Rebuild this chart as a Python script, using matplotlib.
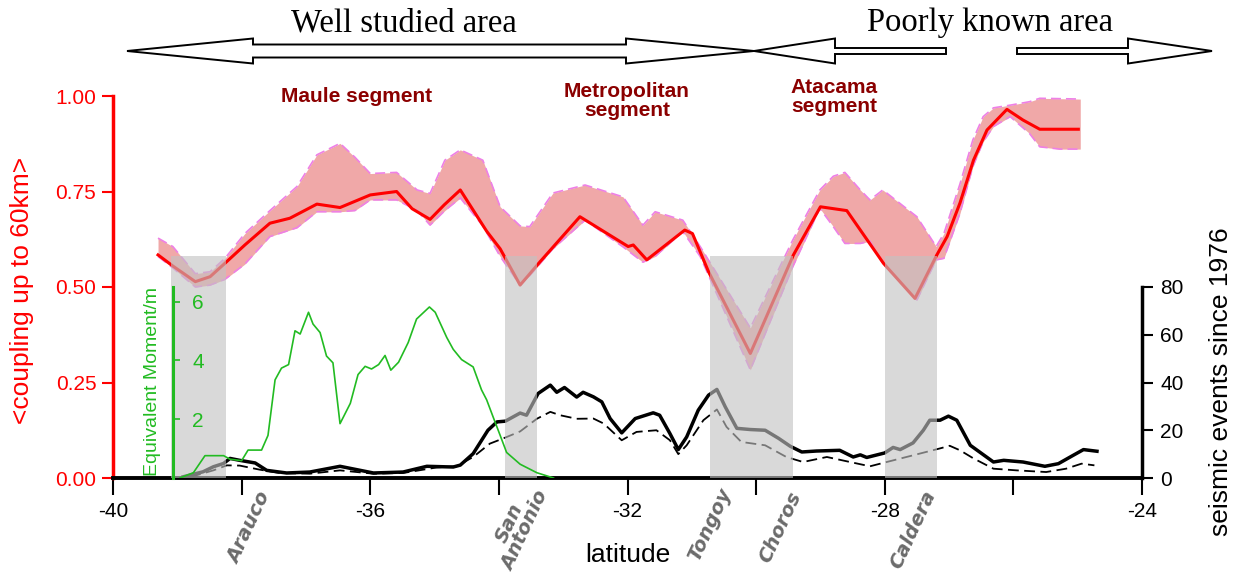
import matplotlib
matplotlib.use('Agg')
import matplotlib.pyplot as plt
from matplotlib.patches import Polygon
from matplotlib import font_manager as fm
import numpy as np

names = {f.name for f in fm.fontManager.ttflist}
NARROW = 'Liberation Sans Narrow' if 'Liberation Sans Narrow' in names else 'Liberation Sans'
plt.rcParams['font.family'] = [NARROW, 'DejaVu Sans']

# ---------------- data ----------------
# coupling envelope (min / max of models)
env_lat = [-39.30, -39.07, -38.72, -38.49, -38.26, -37.95, -37.56, -37.14, -36.83, -36.47,
           -36.24, -36.00, -35.59, -35.27, -35.07, -34.84, -34.60, -34.25, -33.98, -33.67,
           -33.52, -33.16, -32.66, -32.07, -31.76, -31.57, -31.14, -30.87, -30.09, -29.43,
           -29.01, -28.80, -28.62, -28.38, -28.23, -28.03, -27.50, -27.20, -27.08, -26.83,
           -26.63, -26.47, -26.31, -26.05, -25.75, -25.59, -25.28, -24.96]
env_lo = [0.580, 0.550, 0.500, 0.505, 0.520, 0.560, 0.632, 0.655, 0.697, 0.697,
          0.700, 0.728, 0.728, 0.700, 0.662, 0.700, 0.733, 0.660, 0.580, 0.505,
          0.530, 0.600, 0.675, 0.605, 0.565, 0.580, 0.645, 0.580, 0.283, 0.553,
          0.706, 0.658, 0.614, 0.614, 0.620, 0.562, 0.466, 0.571, 0.575, 0.693,
          0.815, 0.880, 0.920, 0.946, 0.902, 0.867, 0.861, 0.861]
env_hi = [0.628, 0.606, 0.535, 0.540, 0.575, 0.640, 0.700, 0.763, 0.846, 0.876,
          0.840, 0.797, 0.800, 0.754, 0.745, 0.832, 0.859, 0.832, 0.710, 0.660,
          0.658, 0.746, 0.767, 0.736, 0.662, 0.697, 0.675, 0.606, 0.393, 0.623,
          0.754, 0.790, 0.800, 0.754, 0.728, 0.754, 0.684, 0.606, 0.640, 0.770,
          0.885, 0.946, 0.969, 0.976, 0.985, 0.994, 0.993, 0.992]

# mean coupling
red_lat = [-39.30, -39.07, -38.72, -38.49, -38.26, -37.95, -37.56, -37.25, -36.83, -36.47,
           -36.00, -35.59, -35.35, -35.07, -34.85, -34.60, -34.19, -33.98, -33.67, -33.36,
           -32.74, -31.99, -31.91, -31.70, -31.11, -30.99, -30.74, -30.09, -29.42, -29.00,
           -28.59, -28.02, -27.53, -27.19, -27.03, -26.83, -26.62, -26.41, -26.10, -25.85,
           -25.59, -24.99]
red_val = [0.584, 0.555, 0.514, 0.527, 0.562, 0.610, 0.667, 0.680, 0.717, 0.708,
           0.741, 0.750, 0.705, 0.677, 0.715, 0.754, 0.646, 0.600, 0.505, 0.566,
           0.684, 0.606, 0.610, 0.571, 0.649, 0.640, 0.540, 0.326, 0.584, 0.710,
           0.700, 0.562, 0.470, 0.584, 0.632, 0.720, 0.832, 0.911, 0.965, 0.937,
           0.913, 0.913]

# equivalent moment / m
gr_lat = [-38.96, -38.75, -38.57, -38.28, -38.18, -38.00, -37.90, -37.69, -37.59, -37.48,
          -37.38, -37.27, -37.17, -37.09, -36.96, -36.89, -36.78, -36.68, -36.58, -36.47,
          -36.31, -36.19, -36.08, -35.98, -35.87, -35.77, -35.68, -35.56, -35.41, -35.28,
          -35.08, -34.99, -34.81, -34.71, -34.58, -34.40, -34.27, -34.19, -34.09, -33.98,
          -33.88, -33.67, -33.41, -33.15]
gr_val = [0.00, 0.18, 0.76, 0.76, 0.64, 0.59, 0.95, 0.95, 1.45, 3.34,
          3.74, 3.86, 5.01, 4.90, 5.64, 5.24, 4.95, 4.15, 3.92, 1.85,
          2.54, 3.52, 3.80, 3.71, 3.86, 4.17, 3.67, 3.94, 4.61, 5.41,
          5.82, 5.64, 4.78, 4.38, 4.03, 3.78, 3.00, 2.66, 2.08, 1.45,
          0.87, 0.47, 0.18, 0.00]

# seismic events (solid)
sol_lat = [-38.91, -38.60, -38.44, -38.28, -38.18, -38.03, -37.79, -37.61, -37.30, -36.94,
           -36.47, -35.95, -35.49, -35.12, -34.71, -34.60, -34.40, -34.17, -34.03, -33.90,
           -33.67, -33.57, -33.39, -33.20, -33.10, -32.98, -32.79, -32.69, -32.53, -32.40,
           -32.27, -32.09, -31.88, -31.60, -31.50, -31.34, -31.21, -31.08, -30.90, -30.74,
           -30.61, -30.48, -30.30, -30.09, -29.86, -29.65, -29.47, -29.29, -29.06, -28.70,
           -28.49, -28.38, -28.28, -28.00, -27.87, -27.76, -27.56, -27.40, -27.30, -27.14,
           -27.01, -26.88, -26.67, -26.31, -26.15, -25.85, -25.51, -25.30, -25.07, -24.91,
           -24.70]
sol_val = [0.5, 2.6, 4.7, 6.1, 8.2, 7.4, 6.3, 3.2, 2.1, 2.5,
           4.9, 2.1, 2.5, 4.9, 4.6, 5.4, 10.2, 20.0, 23.5, 23.8,
           27.2, 26.3, 35.4, 38.9, 35.9, 37.9, 33.9, 35.9, 34.0, 31.9,
           24.9, 18.9, 24.9, 27.3, 26.3, 18.6, 11.9, 17.2, 28.4, 34.7,
           37.1, 29.8, 20.8, 20.3, 20.0, 16.6, 13.3, 10.9, 11.3, 11.6,
           8.8, 9.7, 8.6, 10.5, 12.8, 11.9, 14.7, 20.0, 24.2, 24.2,
           25.9, 24.2, 13.7, 6.7, 7.4, 6.7, 4.9, 6.0, 9.5, 11.9,
           11.2]

# seismic events (dashed)
das_lat = [-38.80, -38.44, -38.23, -38.03, -37.72, -37.41, -36.94, -36.47, -35.95, -35.49,
           -34.97, -34.66, -34.40, -34.14, -33.93, -33.67, -33.41, -33.20, -33.05, -32.79,
           -32.53, -32.37, -32.09, -31.86, -31.55, -31.34, -31.21, -31.08, -30.82, -30.61,
           -30.46, -30.23, -29.86, -29.53, -29.27, -28.90, -28.54, -28.23, -27.97, -27.56,
           -27.14, -26.99, -26.83, -26.62, -26.31, -25.95, -25.49, -25.18, -24.94, -24.74]
das_val = [0.4, 3.2, 5.3, 5.2, 3.5, 2.1, 1.8, 3.2, 1.8, 2.1,
           4.4, 4.9, 8.8, 14.4, 16.6, 19.5, 24.8, 27.7, 26.3, 24.8,
           24.9, 22.8, 15.8, 19.3, 20.0, 15.8, 10.0, 13.7, 24.2, 28.7,
           21.4, 15.1, 13.7, 8.8, 6.7, 8.8, 6.7, 4.9, 6.7, 9.5,
           12.4, 13.5, 11.6, 8.2, 3.9, 3.2, 2.5, 3.9, 6.0, 5.3]

# shaded zones (latitude ranges)
bands = [(-39.10, -38.25), (-33.90, -33.40), (-30.72, -29.43), (-28.00, -27.19)]

places = ['Arauco', 'San\nAntonio', 'Tongoy', 'Choros', 'Caldera']
segments = ['Maule segment', 'Metropolitan\nsegment', 'Atacama\nsegment']
x_ticks = [-40, -38, -36, -34, -32, -30, -28, -26, -24]
x_ticklabels = ['-40', '', '-36', '', '-32', '', '-28', '', '-24']
c_ticks = [0.0, 0.25, 0.50, 0.75, 1.00]
s_ticks = [0, 20, 40, 60, 80]
m_ticks = [2, 4, 6]

# ---------------- figure ----------------
W, H = 1236, 572
fig = plt.figure(figsize=(W / 100, H / 100), dpi=100)
L, R, B, T = 113, 1142, 478, 96
ax = fig.add_axes([L / W, 1 - B / H, (R - L) / W, (B - T) / H])

RED = '#ff0000'
GREEN = '#22bb22'
PINK = '#f0a8a8'
VIOLET = '#ee80e6'


def fx(x):
    return x / W


def fy(y):
    return 1 - y / H


ax.fill_between(env_lat, env_lo, env_hi, color=PINK, lw=0, zorder=1)
ax.plot(env_lat, env_hi, color=VIOLET, lw=1.2, ls=(0, (6, 3)), zorder=2)
ax.plot(env_lat, env_lo, color=VIOLET, lw=1.2, ls=(0, (6, 3)), zorder=2)
ax.plot(red_lat, red_val, color=RED, lw=2.2, zorder=3)

ax.set_xlim(-40, -24)
ax.set_ylim(0, 1)
for s in ['top', 'right']:
    ax.spines[s].set_visible(False)
ax.spines['left'].set_color(RED)
ax.spines['left'].set_linewidth(2.5)
ax.spines['bottom'].set_linewidth(2.8)
ax.set_yticks(c_ticks)
ax.set_yticklabels(['%.2f' % v for v in c_ticks])
ax.tick_params(axis='y', colors=RED, length=8, width=1.5, labelsize=15, pad=4)
ax.set_xticks(x_ticks)
ax.set_xticklabels(x_ticklabels)
ax.tick_params(axis='x', length=12, width=1.5, labelsize=15, pad=5)
fig.text(fx(22), fy(290), '<coupling up to 60km>', color=RED, fontsize=19,
         family='Liberation Sans', rotation=90, ha='center', va='center')
fig.text(fx(628), fy(555), 'latitude', fontsize=19, ha='center', va='center')

# seismic events axis
ax2 = ax.twinx()
ax2.set_ylim(0, 160)
for s in ['top', 'left', 'bottom']:
    ax2.spines[s].set_visible(False)
ax2.spines['right'].set_bounds(0, 80)
ax2.spines['right'].set_linewidth(2.5)
ax2.set_yticks(s_ticks)
ax2.tick_params(axis='y', length=8, width=1.5, labelsize=15, pad=5)
ax2.plot(sol_lat, sol_val, color='black', lw=2.5, zorder=2)
ax2.plot(das_lat, das_val, color='black', lw=1.3, ls=(0, (6, 3)), zorder=2)
for a, b in bands:
    ax2.axvspan(a, b, ymin=0, ymax=0.58, color='#c2c2c2', alpha=0.62, lw=0, zorder=5)
fig.text(fx(1221), fy(382), 'seismic events since 1976', fontsize=19,
         family='Liberation Sans', rotation=90, ha='center', va='center')

# equivalent moment axis
ax3 = ax.twinx()
ax3.set_ylim(0, 13.0)
for s in ['top', 'left', 'bottom']:
    ax3.spines[s].set_visible(False)
ax3.spines['right'].set_position(('data', -39.07))
ax3.spines['right'].set_bounds(0, 6.5)
ax3.spines['right'].set_color(GREEN)
ax3.spines['right'].set_linewidth(2.2)
ax3.set_yticks(m_ticks)
ax3.tick_params(axis='y', colors=GREEN, length=5, width=1.2, labelsize=15, pad=9)
ax3.plot(gr_lat, gr_val, color=GREEN, lw=1.2, zorder=6)
ax3.text(-39.39, 3.3, 'Equivalent Moment/m', rotation=90, color=GREEN, fontsize=14,
         family='Liberation Sans', ha='center', va='center')

# ---------------- annotations ----------------
seg_pos = [(357, 97), (627, 101), (834, 97)]
for txt, (x, y) in zip(segments, seg_pos):
    fig.text(fx(x), fy(y), txt, ha='center', va='center', color='#8b0000',
             fontsize=15, fontweight='bold', linespacing=1.05)

place_pos = [(249, 528), (517, 527), (710, 525), (780, 527), (913, 530)]
for txt, (x, y) in zip(places, place_pos):
    fig.text(fx(x), fy(y), txt, ha='center', va='center', color='#6b6b6b',
             fontsize=14, fontweight='bold', fontstyle='italic', rotation=65,
             family='DejaVu Sans', linespacing=0.9, rotation_mode='anchor')

fig.text(fx(404), fy(31), 'Well studied area', ha='center', va='baseline',
         family='Liberation Serif', fontsize=23.5)
fig.text(fx(990), fy(31), 'Poorly known area', ha='center', va='baseline',
         family='Liberation Serif', fontsize=23.5)

cy, hh = 51, 12.5


def add_poly(pts):
    poly = Polygon([(fx(x), fy(y)) for x, y in pts], closed=True, transform=fig.transFigure,
                   facecolor='white', edgecolor='black', lw=1.4)
    fig.add_artist(poly)


sh = 6.5
add_poly([(127, cy), (253, cy - hh), (253, cy - sh), (626, cy - sh), (626, cy - hh),
          (754, cy), (626, cy + hh), (626, cy + sh), (253, cy + sh), (253, cy + hh)])
sh = 3
add_poly([(754, cy), (835, cy - hh), (835, cy - sh), (946, cy - sh), (946, cy + sh),
          (835, cy + sh), (835, cy + hh)])
add_poly([(1017, cy - sh), (1128, cy - sh), (1128, cy - hh), (1212, cy), (1128, cy + hh),
          (1128, cy + sh), (1017, cy + sh)])

fig.savefig('out.png', dpi=100)
